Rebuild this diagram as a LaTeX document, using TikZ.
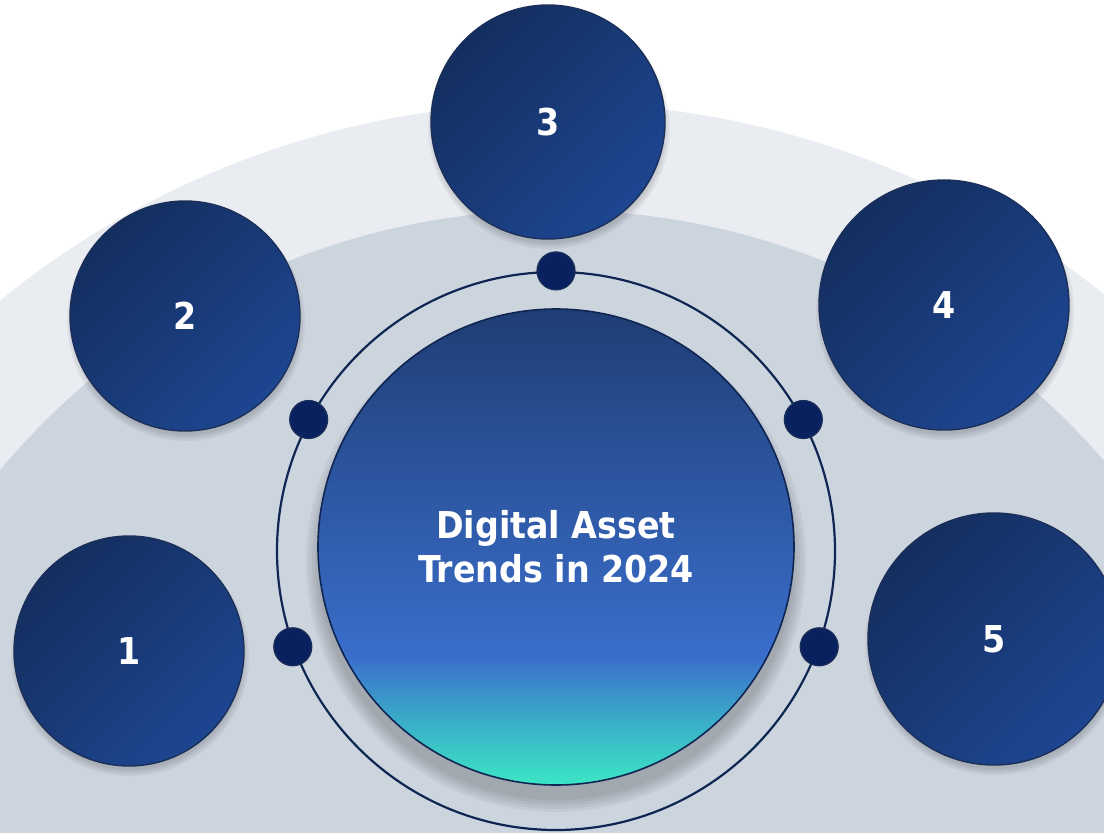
\documentclass[tikz,border=0pt]{standalone}
\usepackage{fontspec}
\setmainfont{DejaVu Sans Condensed}

\definecolor{bglight}{HTML}{E9EDF2}
\definecolor{bgmid}{HTML}{CCD4DE}
\definecolor{navy}{HTML}{0F2552}
\definecolor{dotfill}{HTML}{0A2160}
\definecolor{bubdark}{HTML}{142E5F}
\definecolor{bublight}{HTML}{1D4691}
\definecolor{bubline}{HTML}{1B2F58}
\definecolor{hubtop}{HTML}{1F3D75}
\definecolor{hubblue}{HTML}{3A6ECB}
\definecolor{hubaqua}{HTML}{3AB4C8}
\definecolor{hubteal}{HTML}{3CE6C5}

\pgfdeclareverticalshading{hubshade}{100bp}{color(0bp)=(hubteal); color(25bp)=(hubteal); color(31bp)=(hubaqua); color(38.5bp)=(hubblue); color(75bp)=(hubtop); color(100bp)=(hubtop)}

\begin{document}
\begin{tikzpicture}[x=1pt,y=-1pt,
    bubble/.style={circle,draw=bubline,line width=1.4pt,top color=bubdark,bottom color=bublight,shading angle=45,
      text=white,font=\fontsize{37}{44}\selectfont\bfseries},
    hub/.style={circle,draw=navy,line width=1.6pt,shading=hubshade,minimum size=476,align=center,
      text=white,font=\fontsize{37}{44}\selectfont\bfseries},
    dot/.style={circle,draw=bubline,line width=1.2pt,fill=dotfill,minimum size=38,inner sep=0pt},
    soft/.style={fill=black,opacity=0.045}]
   \useasboundingbox (0,0) rectangle (1104,833);
   \clip (0,0) rectangle (1104,833);
   \fill[white] (0,0) rectangle (1104,833);
   % backdrop arcs
   \fill[bglight] (556,984) circle (881);
   \fill[bgmid] (556,934) circle (724);
   % soft shadows
   \foreach \k in {0,...,4}
     \fill[soft] (556,562) circle (250-3*\k);
   \foreach \cx/\cy/\r in {129/651/115, 185/316/115, 548/122/117, 944/305/125, 994/639/126}
     \foreach \k in {0,...,3}
       \fill[soft] (\cx+1,\cy+6) circle (\r+4-2*\k);
   % ring and hub
   \node[circle,draw=navy,line width=2.2pt,minimum size=558] (ring) at (556,551) {};
   \node[hub] (hub) at (556,547) {Digital Asset\\Trends in 2024};
   % dots on the ring
   \node[dot] (d1) at (ring.200) {};
   \node[dot] (d2) at (ring.152) {};
   \node[dot] (d3) at (ring.90) {};
   \node[dot] (d4) at (ring.28) {};
   \node[dot] (d5) at (ring.340) {};
   % numbered bubbles
   \node[bubble,minimum size=230] (b1) at (129,651) {1};
   \node[bubble,minimum size=230] (b2) at (185,316) {2};
   \node[bubble,minimum size=234] (b3) at (548,122) {3};
   \node[bubble,minimum size=250] (b4) at (944,305) {4};
   \node[bubble,minimum size=252] (b5) at (994,639) {5};
\end{tikzpicture}
\end{document}
